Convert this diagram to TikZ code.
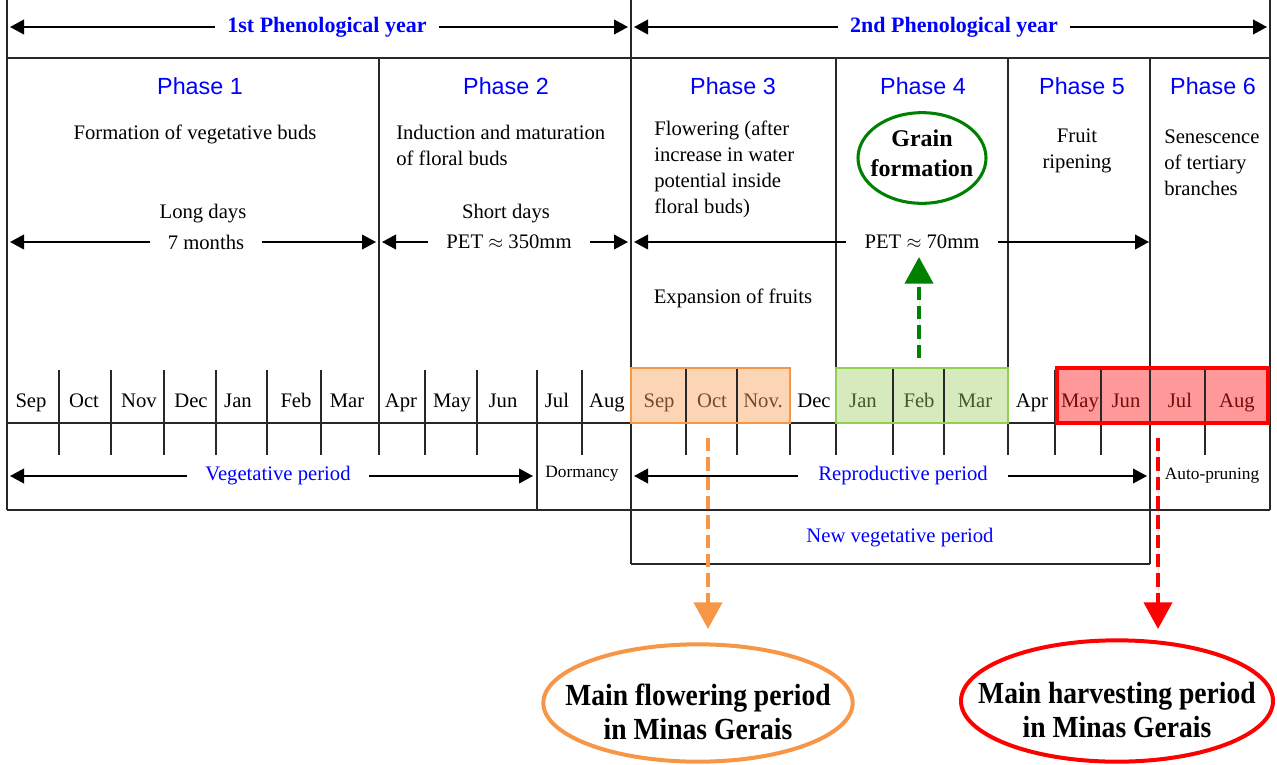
\documentclass[tikz,border=0pt]{standalone}
\usepackage{fontspec}
\setmainfont{Liberation Serif}
\newfontfamily\arialf{Liberation Sans}
\newfontfamily\condb[FakeStretch=0.9]{Liberation Serif Bold}
\usetikzlibrary{arrows.meta,shapes.geometric}
\definecolor{phblue}{RGB}{0,0,255}
\definecolor{orng}{RGB}{247,150,70}
\definecolor{orfill}{RGB}{252,213,181}
\definecolor{ortext}{RGB}{115,75,45}
\definecolor{grn}{RGB}{146,208,80}
\definecolor{grfill}{RGB}{215,234,190}
\definecolor{grtext}{RGB}{65,90,45}
\definecolor{rd}{RGB}{255,0,0}
\definecolor{rdfill}{RGB}{255,153,153}
\definecolor{rdtext}{RGB}{120,10,10}
\definecolor{dkgreen}{RGB}{0,128,0}
\definecolor{lnc}{RGB}{40,40,40}
\begin{document}
\begin{tikzpicture}[x=0.75pt,y=-0.75pt,
  frame/.style={line width=1.1pt, draw=lnc},
  thinl/.style={line width=0.8pt, draw=lnc},
  span/.style={line width=1.3pt, -{Triangle[length=10.5pt,width=11pt]}},
  body/.style={font=\fontsize{15.5}{19.5}\selectfont, inner sep=0pt},
  gaptxt/.style={body, minimum height=14pt},
  phase/.style={font=\arialf\fontsize{17.5}{20}\selectfont, text=phblue, inner sep=0pt},
  yeartxt/.style={font=\bfseries\fontsize{16.5}{19}\selectfont, text=phblue, inner sep=0pt, minimum height=14pt},
  month/.style={font=\fontsize{15.5}{18}\selectfont, inner sep=0pt, anchor=base},
  small/.style={font=\fontsize{13}{16}\selectfont, inner sep=0pt},
  bigtxt/.style={inner sep=0pt, align=center, font=\condb\fontsize{23}{26}\selectfont},
  dasharr/.style={line width=3pt, dash pattern=on 10pt off 4.5pt,
     -{Triangle[length=20pt,width=21pt]}},
]
\useasboundingbox (0,0) rectangle (1277,764);

% ---------- frame ----------
\draw[frame] (7,0) -- (7,510);
\draw[frame] (1270,0) -- (1270,510);
\draw[frame] (631,0) -- (631,564);
\draw[frame] (7,58) -- (1270,58);
\draw[frame] (7,423) -- (1270,423);
\draw[frame] (7,510) -- (1270,510);
\draw[frame] (631,564) -- (1150,564);
% phase separators
\draw[frame] (379,58) -- (379,455);
\draw[frame] (836,58) -- (836,455);
\draw[frame] (1008,58) -- (1008,455);
\draw[frame] (1150,58) -- (1150,564);
\draw[frame] (537,370) -- (537,510);
% month dividers / ticks
\foreach \x in {59,111,164,216,267,321,425,477,582,686,737,790,893,944,1055,1101,1205}
  \draw[thinl] (\x,370) -- (\x,455);

% ---------- phenological years ----------
\coordinate (y1L) at (10,27);
\coordinate (y1R) at (628,27);
\coordinate (y2L) at (634,27);
\coordinate (y2R) at (1267,27);
\node[yeartxt, minimum width=167pt] (y1) at (327,27) {1st Phenological year};
\node[yeartxt, minimum width=174pt] (y2) at (954,27) {2nd Phenological year};
\draw[span] (y1) -- (y1L);
\draw[span] (y1) -- (y1R);
\draw[span] (y2) -- (y2L);
\draw[span] (y2) -- (y2R);

% ---------- phase headings ----------
\node[phase] (p1) at (200,86) {Phase 1};
\node[phase] (p2) at (506,86) {Phase 2};
\node[phase] (p3) at (733,86) {Phase 3};
\node[phase] (p4) at (923,86) {Phase 4};
\node[phase] (p5) at (1082,86) {Phase 5};
\node[phase] (p6) at (1213,86) {Phase 6};

% ---------- phase descriptions ----------
\node[body] (d1) at (195,134) {Formation of vegetative buds};
\node[body, align=left, anchor=north west] (d2) at (396,125) {Induction and maturation\\of floral buds};
\node[body, align=left, anchor=north west] (d3) at (654,121) {Flowering (after\\increase in water\\potential inside\\floral buds)};
\node[body, align=center] (d5) at (1077,151) {Fruit\\ripening};
\node[body, align=left, anchor=north west] (d6) at (1164,130) {Senescence\\of tertiary\\branches};

\node[inner sep=0pt, align=center, font=\bfseries\fontsize{18}{22.5}\selectfont] (grain) at (922,153) {Grain\\formation};
\draw[dkgreen, line width=2.3pt] (922,158) ellipse [x radius=48pt, y radius=34pt];

% ---------- duration arrows ----------
\node[body] (long) at (203,214) {Long days};
\node[gaptxt, minimum width=83pt] (m7) at (206,242) {7 months};
\coordinate (a1L) at (10,242);
\coordinate (a1R) at (376,242);
\draw[span] (m7) -- (a1L);
\draw[span] (m7) -- (a1R);

\node[body] (short) at (506,214) {Short days};
\node[gaptxt, minimum width=121pt] (pet1) at (509,242) {PET $\approx$ 350mm};
\coordinate (a2L) at (382,242);
\coordinate (a2R) at (628,242);
\draw[span] (pet1) -- (a2L);
\draw[span] (pet1) -- (a2R);

\node[gaptxt, minimum width=114pt] (pet2) at (922,242) {PET $\approx$ 70mm};
\coordinate (a3L) at (634,242);
\coordinate (a3R) at (1149,242);
\draw[span] (pet2) -- (a3L);
\draw[span] (pet2) -- (a3R);

\node[body] (exp) at (733,298) {Expansion of fruits};

% ---------- months ----------
\foreach \m/\x in {Sep/31,Oct/84,Nov/139,Dec/191,Jan/238,Feb/296,Mar/347,Apr/401,May/452,Jun/503,Jul/557,Aug/607,Dec/814,Apr/1032}
  \node[month] at (\x,407) {\m};

% orange box
\fill[orfill] (631,368) rectangle (790,423);
\draw[thinl] (686,368) -- (686,423);
\draw[thinl] (737,368) -- (737,423);
\foreach \m/\x in {Sep/659,Oct/712,Nov./763}
  \node[month, text=ortext] at (\x,407) {\m};
\node[draw=orng, line width=2.2pt, inner sep=0pt, minimum width=119.25pt, minimum height=41.25pt] (obox) at (710.5,395.5) {};

% green box
\fill[grfill] (836,368) rectangle (1008,423);
\draw[thinl] (893,368) -- (893,423);
\draw[thinl] (944,368) -- (944,423);
\foreach \m/\x in {Jan/863,Feb/919,Mar/975}
  \node[month, text=grtext] at (\x,407) {\m};
\node[draw=grn, line width=2.2pt, inner sep=0pt, minimum width=129pt, minimum height=41.25pt] (gbox) at (922,395.5) {};

% red box
\fill[rdfill] (1057,368) rectangle (1268,423);
\foreach \x in {1101,1150,1205}
  \draw[thinl] (\x,368) -- (\x,423);
\foreach \m/\x in {May/1080,Jun/1126,Jul/1180,Aug/1237}
  \node[month, text=rdtext] at (\x,407) {\m};
\node[draw=rd, line width=2.6pt, inner sep=0pt, minimum width=158.25pt, minimum height=41.25pt] (rbox) at (1162.5,395.5) {};

% ---------- periods ----------
\node[gaptxt, text=phblue, minimum width=136pt] (veg) at (278,476) {Vegetative period};
\coordinate (vL) at (10,476);
\coordinate (vR) at (533,476);
\draw[span] (veg) -- (vL);
\draw[span] (veg) -- (vR);
\node[small] (dorm) at (582,474) {Dormancy};

\node[gaptxt, text=phblue, minimum width=157pt] (rep) at (903,476) {Reproductive period};
\coordinate (rL) at (634,476);
\coordinate (rR) at (1147,476);
\draw[span] (rep) -- (rL);
\draw[span] (rep) -- (rR);
\node[small] (auto) at (1212,476) {Auto-pruning};

\node[body, text=phblue] (newveg) at (900,538) {New vegetative period};

% ---------- highlight ellipses ----------
\node[bigtxt] (flow) at (698,712) {Main flowering period\\in Minas Gerais};
\draw[orng, line width=3pt] (698,703) ellipse [x radius=116pt, y radius=44pt];
\node[bigtxt] (harv) at (1117,710) {Main harvesting period\\in Minas Gerais};
\draw[rd, line width=3pt] (1117,701) ellipse [x radius=117pt, y radius=45.5pt];

\coordinate (os) at (708,438);
\coordinate (oe) at (708,629);
\coordinate (rs) at (1158,438);
\coordinate (re) at (1158,629);
\coordinate (gs) at (919,358);
\coordinate (gt) at (919,257);
\draw[dasharr, draw=orng, fill=orng] (os) -- (oe);
\draw[dasharr, draw=rd, fill=rd] (rs) -- (re);
\draw[dasharr, draw=dkgreen, fill=dkgreen] (gs) -- (gt);
\end{tikzpicture}
\end{document}
